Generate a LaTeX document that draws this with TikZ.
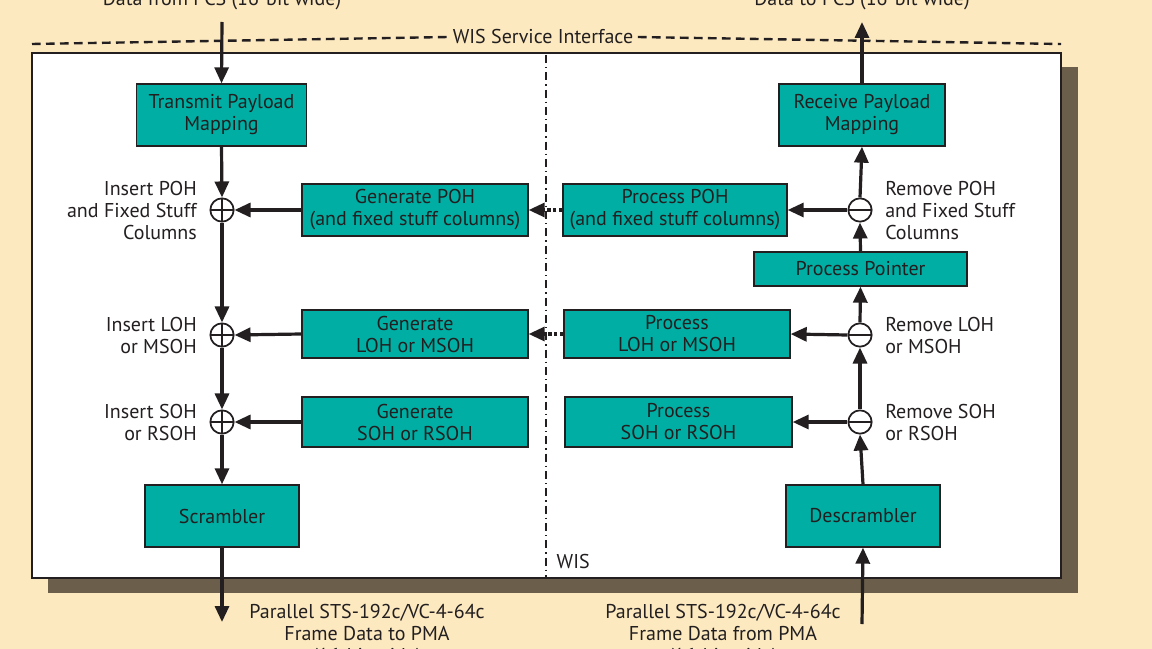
\documentclass[tikz,border=0pt]{standalone}
\usepackage{fontspec}
\setmainfont{PT Sans}
\usetikzlibrary{arrows.meta}
\definecolor{cream}{HTML}{FCE9C0}
\definecolor{shadowbrown}{HTML}{6B5E4A}
\definecolor{boxteal}{HTML}{00AEA3}
\definecolor{ink}{HTML}{231F20}

\begin{document}
\begin{tikzpicture}[%
		x=0.75pt,y=-0.75pt,
		font=\fontsize{15}{16.5}\selectfont,
		every node/.append style={text=ink},
		block/.style={%
			draw=ink,%
			line width=1pt,%
			fill=boxteal,%
			align=center,%
			inner sep=0pt},
		flow/.style={line width=2.4pt,draw=ink,-{Triangle[length=12pt,width=10.5pt]}},
		dots/.style={flow,dotted},
		summer/.style={%
			circle,draw=ink,line width=1.3pt,fill=white,
			minimum size=17.5pt,inner sep=0pt},
		plus/.style={summer,path picture={%
			\draw[line width=1.3pt] (path picture bounding box.north)--(path picture bounding box.south);
			\draw[line width=1.3pt] (path picture bounding box.west)--(path picture bounding box.east);}},
		minus/.style={summer,path picture={%
			\draw[line width=1.3pt] (path picture bounding box.west)--(path picture bounding box.east);}}
		]

		% background and frame
		\fill[cream] (0,0) rectangle (1152,649);
		\useasboundingbox (0,0) rectangle (1152,649);
		\fill[shadowbrown] (48,67) rectangle (1078,593);
		\draw[ink,fill=white,line width=1.5pt] (32,53) rectangle (1061,578);
		% service interface
		\node (sif) at (543,37) {WIS Service Interface};
		\draw[ink,line width=1.8pt,dash pattern=on 6.5pt off 4pt] (32,44)--(sif.west);
		\draw[ink,line width=1.8pt,dash pattern=on 6.5pt off 4pt] (sif.east)--(1061,44);
		% WIS boundary
		\draw[ink,line width=1.2pt,dash pattern=on 6pt off 3pt on 1pt off 3pt] (546,55)--(546,578);
		\node[anchor=west] (wis) at (552,561) {WIS};

		% transmit side
		\node[block,minimum width=127.5pt,minimum height=46.5pt] (tpm) at (221.5,115) {Transmit Payload\\Mapping};
		\node[plus] (ipoh) at (222,210) {};
		\node[plus] (iloh) at (222,335) {};
		\node[plus] (isoh) at (222,422) {};
		\node[block,minimum width=115.5pt,minimum height=46.5pt] (scr) at (222,516) {Scrambler};
		\node[block,minimum width=169.5pt,minimum height=39pt] (gpoh) at (415,210) {Generate POH\\(and fixed stuff columns)};
		\node[block,minimum width=169.5pt,minimum height=36pt] (gloh) at (415,334) {Generate\\LOH or MSOH};
		\node[block,minimum width=169.5pt,minimum height=37.5pt] (gsoh) at (415,422) {Generate\\SOH or RSOH};
		\node[anchor=east,align=right] at ([xshift=-6pt]ipoh.west) {Insert POH\\and Fixed Stuff\\Columns};
		\node[anchor=east,align=right] at ([xshift=-6pt]iloh.west) {Insert LOH\\or MSOH};
		\node[anchor=east,align=right] at ([xshift=-6pt]isoh.west) {Insert SOH\\or RSOH};

		% receive side
		\node[block,minimum width=124.5pt,minimum height=46.5pt] (rpm) at (862,115) {Receive Payload\\Mapping};
		\node[minus] (rpoh) at (860,210) {};
		\node[block,minimum width=159.75pt,minimum height=25.5pt] (ptr) at (860.5,269) {Process Pointer};
		\node[minus] (rloh) at (860,335) {};
		\node[minus] (rsoh) at (860,422) {};
		\node[block,minimum width=115.5pt,minimum height=46.5pt] (dscr) at (863,516) {Descrambler};
		\node[block,minimum width=168pt,minimum height=39pt] (ppoh) at (675,210) {Process POH\\(and fixed stuff columns)};
		\node[block,minimum width=169.5pt,minimum height=36pt] (ploh) at (677,334) {Process\\LOH or MSOH};
		\node[block,minimum width=170.25pt,minimum height=37.5pt] (psoh) at (678.5,422) {Process\\SOH or RSOH};
		\node[anchor=west,align=left] at ([xshift=6pt]rpoh.east) {Remove POH\\and Fixed Stuff\\Columns};
		\node[anchor=west,align=left] at ([xshift=6pt]rloh.east) {Remove LOH\\or MSOH};
		\node[anchor=west,align=left] at ([xshift=6pt]rsoh.east) {Remove SOH\\or RSOH};

		% PCS and PMA ends
		\node[anchor=base] (pcsin) at (222,6) {Data from PCS (16-bit wide)};
		\node[anchor=base] (pcsout) at (862,6) {Data to PCS (16-bit wide)};
		\coordinate (tin) at (222,22);
		\coordinate (rout) at (862,22);
		\coordinate (tout) at (222,622);
		\coordinate (rin) at (862,624);
		\node[anchor=north,align=center] (pmaout) at (367,600) {Parallel STS-192c/VC-4-64c\\Frame Data to PMA\\(16-bit wide)};
		\node[anchor=north,align=center] (pmain) at (723,600) {Parallel STS-192c/VC-4-64c\\Frame Data from PMA\\(16-bit wide)};

		% transmit flow
		\draw[flow] (tin)--(tpm.north);
		\draw[flow] (tpm.south)--(ipoh.north);
		\draw[flow] (ipoh.south)--(iloh.north);
		\draw[flow] (iloh.south)--(isoh.north);
		\draw[flow] (isoh.south)--(scr.north);
		\draw[flow] (scr.south)--(tout);
		\draw[flow] (gpoh.west)--(ipoh.east);
		\draw[flow] (gloh.west)--(iloh.east);
		\draw[flow] (gsoh.west)--(isoh.east);
		% receive flow
		\draw[flow] (rin)--(dscr.south);
		\draw[flow] (dscr.north)--(rsoh.south);
		\draw[flow] (rsoh.north)--(rloh.south);
		\draw[flow] (rloh.north)--(ptr.south);
		\draw[flow] (ptr.north)--(rpoh.south);
		\draw[flow] (rpoh.north)--(rpm.south);
		\draw[flow] (rpm.north)--(rout);
		\draw[flow] (rpoh.west)--(ppoh.east);
		\draw[flow] (rloh.west)--(ploh.east);
		\draw[flow] (rsoh.west)--(psoh.east);
		% across the WIS
		\draw[dots] (ppoh.west)--(gpoh.east);
		\draw[dots] (ploh.west)--(gloh.east);
	\end{tikzpicture}
\end{document}
